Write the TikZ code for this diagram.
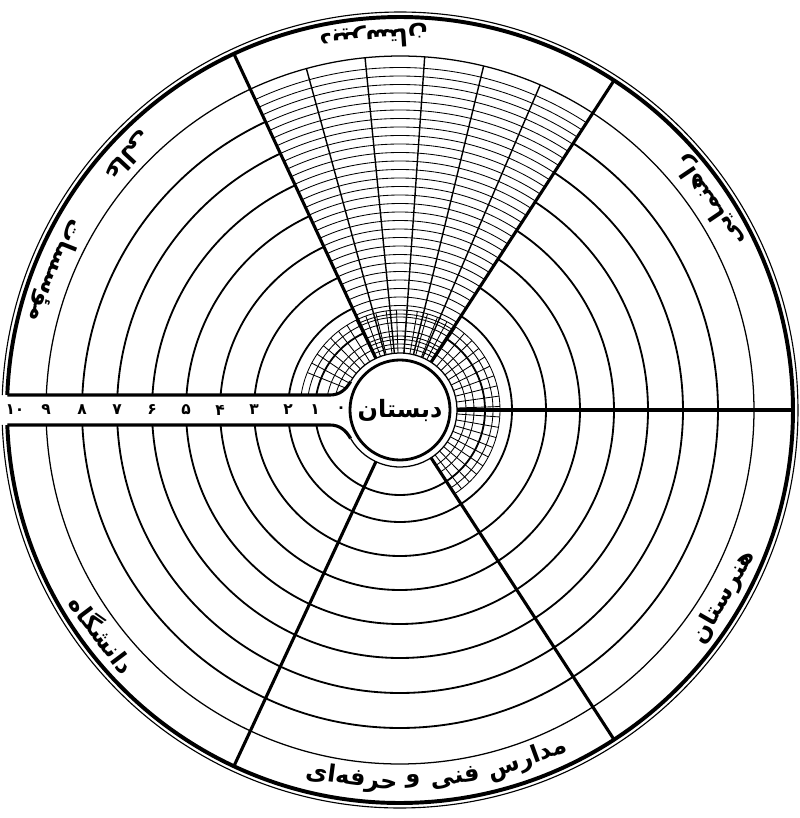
\documentclass[tikz,border=0pt]{standalone}
\usepackage{fontspec}
\newfontfamily\arabicfont[Script=Arabic]{DejaVu Sans}
\TeXXeTstate=1

\begin{document}
\begin{tikzpicture}[x=0.025cm,y=0.025cm,
  rim/.style={line width=2.8pt},
  ring/.style={line width=1.3pt},
  hatch/.style={line width=0.6pt},
  spoke/.style={line width=2.2pt},
  lbl/.style={font=\arabicfont\bfseries\fontsize{17}{20}\selectfont,inner sep=0pt},
  num/.style={font=\arabicfont\bfseries\fontsize{11}{12}\selectfont,inner sep=0pt}]

  % -------- INPUT --------
  \def\Rout{393}         % outer rim
  \def\Rlab{354}         % inner edge of the label band
  \def\Rin{57}           % thin circle round the core
  \def\Hs{15}            % half width of the slot

  \useasboundingbox (-400,-408) rectangle (400,410);

  % Outer rim, cut by the slot
  \pgfmathsetmacro\a{asin(\Hs/\Rout)}
  \draw[rim] (-180+\a:\Rout) arc[start angle=-180+\a, end angle=180-\a, radius=\Rout];
  \pgfmathsetmacro\b{asin(\Hs/398)}
  \draw[line width=0.8pt] (-180+\b:398) arc[start angle=-180+\b, end angle=180-\b, radius=398];

  % Rings (left out of the top wedge)
  \foreach \r in {85,112,146,180,214,248,283,318} {
      \pgfmathsetmacro\a{asin(\Hs/\r)}
      \draw[ring] (-180+\a:\r) arc[start angle=-180+\a, end angle=57, radius=\r];
      \draw[ring] (115:\r) arc[start angle=115, end angle=180-\a, radius=\r];
  }
  \pgfmathsetmacro\a{asin(\Hs/\Rlab)}
  \draw[line width=0.9pt] (-180+\a:\Rlab) arc[start angle=-180+\a, end angle=180-\a, radius=\Rlab];

  % Core
  \node[circle, draw, line width=2pt, minimum size=2.5cm, inner sep=0pt] (core) at (0,0)
      {\arabicfont\bfseries\fontsize{17}{20}\selectfont\beginR دبستان\endR};
  \draw[line width=0.9pt] (-150:\Rin) arc[start angle=-150, end angle=150, radius=\Rin];

  % Grid round the core
  \foreach \r in {66,74,93,100} {
      \pgfmathsetmacro\a{asin(\Hs/\r)}
      \draw[hatch] (-57:\r) arc[start angle=-57, end angle=180-\a, radius=\r];
  }
  \foreach \t in {-52,-46,...,162} {
      \draw[hatch] (\t:\Rin) -- (\t:100);
  }

  % Top wedge: dense arcs and columns
  \foreach \r in {62,70.5,...,350} {
      \draw[hatch] (57:\r) arc[start angle=57, end angle=115, radius=\r];
  }
  \foreach \k in {1,...,5} {
      \draw[line width=1pt] (57+\k*58/6:\Rin) -- (57+\k*58/6:\Rlab);
  }

  % Spokes
  \foreach \t in {0,57,115,-115,-57} {
      \draw[spoke] (\t:\Rin) -- (\t:\Rout);
  }

  % Slot
  \pgfmathsetmacro\c{\Rout*cos(asin(\Hs/\Rout))}
  \coordinate (slotTL) at (-\c,\Hs);
  \coordinate (slotBL) at (-\c,-\Hs);
  \draw[spoke] (slotTL) -- (-70,\Hs) to[out=0,in=240] (150:\Rin);
  \draw[spoke] (slotBL) -- (-70,-\Hs) to[out=0,in=120] (210:\Rin);

  % Numbers in the slot
  \foreach \r/\n [count=\i] in {59/۰,85/۱,112/۲,146/۳,180/۴,214/۵,248/۶,283/۷,318/۸,354/۹,385/۱۰} {
      \node[num] (n\i) at (-\r,0) {\n};
  }

  % Labels in the band
  \newcommand{\bandword}[4]{%
      \node[lbl, rotate=#2+90] (#1) at (#2:#3) {\beginR #4\endR};
  }
  \bandword{lblTop}{94}{374}{دبیرستان}
  \bandword{lblRT}{34}{374}{راهنمایی}
  \bandword{lblRB}{-30}{374}{هنرستان}
  \bandword{lblBa}{-70}{372}{مدارس}
  \bandword{lblBb}{-81.5}{372}{فنی}
  \bandword{lblBc}{-88}{372}{و}
  \bandword{lblBd}{-97.5}{372}{حرفه‌ای}
  \bandword{lblLB}{-143}{372}{دانشگاه}
  \bandword{lblLTa}{158}{372}{مؤسسات}
  \bandword{lblLTb}{137}{372}{عالی}

\end{tikzpicture}
\end{document}
